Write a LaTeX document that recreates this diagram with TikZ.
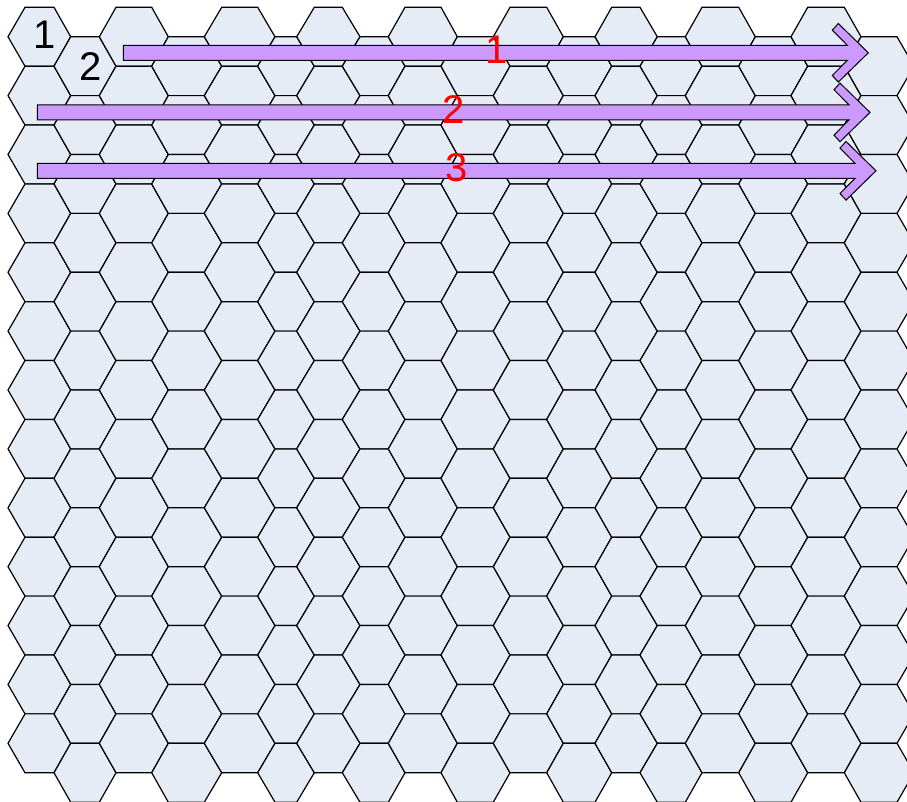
\documentclass[tikz,border=0pt]{standalone}
\usepackage{fontspec}
\setmainfont{Liberation Sans}
\usetikzlibrary{positioning}

\definecolor{cellfill}{RGB}{230,236,246}
\definecolor{arrowfill}{RGB}{204,153,255}

\begin{document}
\begin{tikzpicture}[
  x=1pt, y=-1pt,
  hexcell/.style={draw=black, line width=1.2pt, fill=cellfill},
  arrowbody/.style={draw=black, line width=1pt, fill=arrowfill},
  numlabel/.style={inner sep=0pt, font=\fontsize{40}{40}\selectfont},
  redlabel/.style={numlabel, text=red},
]
\useasboundingbox (0,0) rectangle (907,801);

%% Hexagon grid (column widths vary a little)
\begin{scope}
\clip (0,0) rectangle (907,801);
\foreach \L/\a/\b/\R [count=\c from 0] in {
    8/25/54/70.7, 54/70.7/99.3/116, 99.3/116/151.7/168.3,
    151.7/168.3/204.3/221.7, 204.3/221.7/257.7/275, 257.7/275/296.7/314.3,
    296.7/314.3/342.3/360, 342.3/360/388.3/405, 388.3/405/441/457.3,
    441/457.3/493.3/510, 493.3/510/546.7/563.3, 546.7/563.3/595/611.7,
    595/611.7/640/657.3, 640/657.3/685.3/702, 685.3/702/738.7/755.3,
    738.7/755.3/791/807.7, 791/807.7/844.3/861, 844.3/861/897/914}{
  \pgfmathsetmacro{\off}{mod(\c,2)*29.44}
  \foreach \k in {0,...,12}{
    \pgfmathsetmacro{\t}{7.3+\off+58.88*\k}
    \draw[hexcell] (\L,\t+29.44) -- (\a,\t) -- (\b,\t) -- (\R,\t+29.44)
      -- (\b,\t+58.88) -- (\a,\t+58.88) -- cycle;
  }
}
\end{scope}

%% Corner numbers
\node[numlabel] (first) at (45,34.7) {1};
\node[numlabel] (second) at (91,66.5) {2};

%% Scan arrows
\foreach \sx/\tx/\ty in {123.3/868.3/52.8, 37.3/870/112.4, 37.3/876/170.8}{
  \draw[arrowbody] (\sx,\ty-7.5) -- (\tx-21,\ty-7.5) -- (\tx-36,\ty-22.7)
    -- (\tx-30,\ty-29.3) -- (\tx,\ty) -- (\tx-30,\ty+29.3)
    -- (\tx-36,\ty+22.7) -- (\tx-21,\ty+7.5) -- (\sx,\ty+7.5) -- cycle;
}

%% Arrow numbers
\node[redlabel] (pass1) at (497,50) {1};
\node[redlabel] (pass2) at (454,110) {2};
\node[redlabel] (pass3) at (456.5,168) {3};

\end{tikzpicture}
\end{document}
